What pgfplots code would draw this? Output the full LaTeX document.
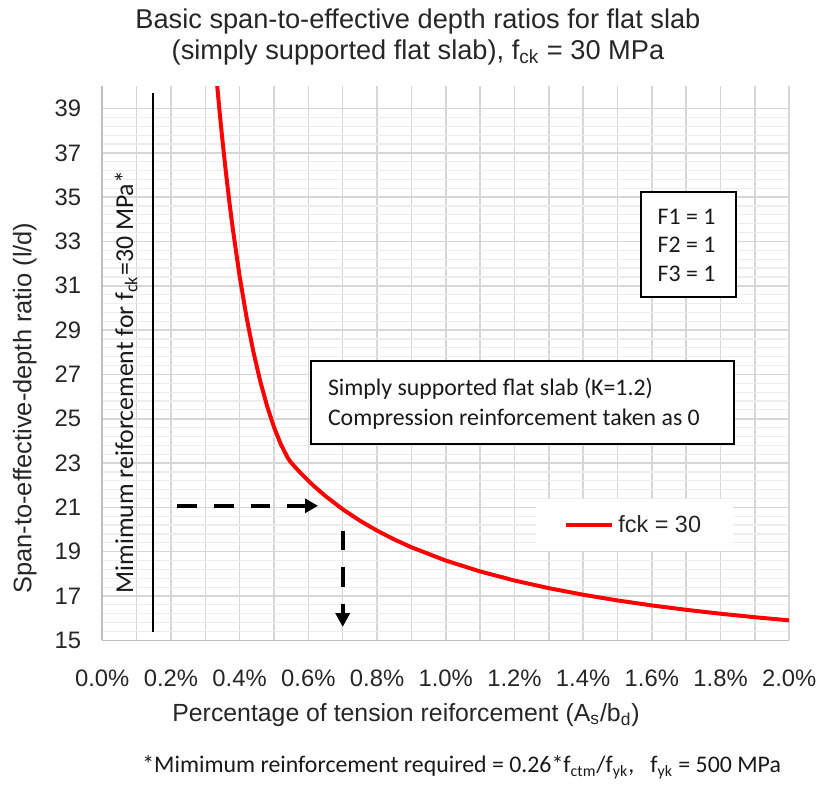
\documentclass[border=0pt]{standalone}
\usepackage{pgfplots}
\pgfplotsset{compat=1.18}
\usepackage{fontspec}
\setmainfont{Liberation Sans}
\newfontfamily\calibri{Carlito}
\usetikzlibrary{arrows.meta}

\pgfplotstableread{
x y
0.333 40.307
0.340 39.126
0.345 38.326
0.350 37.559
0.360 36.120
0.370 34.796
0.380 33.578
0.400 31.420
0.420 29.584
0.440 28.021
0.460 26.691
0.480 25.565
0.500 24.620
0.520 23.844
0.540 23.236
0.5477 23.059
0.560 22.843
0.580 22.510
0.600 22.200
0.620 21.910
0.650 21.508
0.700 20.914
0.750 20.400
0.800 19.950
0.850 19.553
0.900 19.200
1.000 18.600
1.100 18.109
1.200 17.700
1.300 17.354
1.400 17.057
1.500 16.800
1.600 16.575
1.700 16.376
1.800 16.200
1.900 16.042
2.000 15.900
}\curve

\begin{document}
\begin{tikzpicture}
\begin{scope}[x=0.5pt,y=-0.5pt]
\path[use as bounding box] (0,0) rectangle (823,790);
\end{scope}
\begin{axis}[
  at={(51.5pt,-322.5pt)}, anchor=south west,
  scale only axis, width=346pt, height=279pt,
  xmin=0, xmax=2, ymin=15, ymax=40,
  xtick={0,0.2,0.4,0.6,0.8,1.0,1.2,1.4,1.6,1.8,2.0},
  minor x tick num=1,
  ytick={15,17,...,39},
  minor y tick num=4,
  grid=both,
  major x grid style={draw=black!16, line width=0.8pt},
  minor x grid style={draw=black!16, line width=0.8pt},
  major y grid style={draw=black!16, line width=0.8pt},
  minor y grid style={draw=black!7, line width=0.6pt},
  axis x line*=bottom, axis y line*=left,
  axis line style={-, draw=black!25, line width=0.8pt},
  tick style={draw=none},
  /pgf/number format/assume math mode=true,
  xticklabel={\pgfmathprintnumber[fixed,fixed zerofill,precision=1]{\tick}\%},
  ticklabel style={font=\fontsize{12}{14}\selectfont, text=black!85},
  xticklabel style={anchor=center, yshift=-19pt},
  yticklabel style={anchor=east, inner sep=0pt, xshift=-10.5pt},
  legend style={at={(0.7746,0.2079)}, anchor=center, draw=none, fill=white,
    font=\fontsize{11.8}{13}\selectfont, text=black!85,
    inner xsep=14pt, inner ysep=6pt},
  legend image code/.code={\draw[#1] (0pt,0pt) -- (23.5pt,0pt);},
]
\addplot[red, line width=2pt] table[x=x,y=y] {\curve};
\addlegendentry{fck = 30}
\addplot[black, line width=1.3pt, forget plot] coordinates {(0.148,15.37) (0.148,39.7)};
\addplot[black, line width=2pt, dash pattern=on 10pt off 8.5pt, -{Triangle[length=6.5pt,width=7pt]}, forget plot]
  coordinates {(0.218,21.07) (0.628,21.07)};
\addplot[black, line width=2pt, dash pattern=on 10pt off 8.5pt, -{Triangle[length=7pt,width=7pt]}, forget plot]
  coordinates {(0.700,19.95) (0.700,15.6)};
\end{axis}
\begin{scope}[x=0.5pt,y=-0.5pt]
% title
\node[align=center, font=\fontsize{13.7}{15.5}\selectfont, text=black!85] at (421,37)
  {Basic span-to-effective depth ratios for flat slab\\(simply supported flat slab), f\textsubscript{ck} = 30 MPa};
% axis titles
\node[rotate=90, font=\fontsize{12.8}{15}\selectfont, text=black!85] at (25,411)
  {Span-to-effective-depth ratio (l/d)};
\node[font=\fontsize{12.5}{15}\selectfont, text=black!85] at (409,720)
  {Percentage of tension reiforcement (A\textsubscript{s}/b\textsubscript{d})};
% footnote
\node[anchor=west, inner sep=0pt, font=\calibri\fontsize{12}{14}\selectfont, text=black!90] at (143,773)
  {*Mimimum reinforcement required = 0.26*f\textsubscript{ctm}/f\textsubscript{yk},\ \ \ f\textsubscript{yk} = 500 MPa};
% rotated annotation
\node[rotate=90, font=\calibri\fontsize{13}{15}\selectfont, text=black!90] at (127,385)
  {Mimimum reiforcement for f\textsubscript{ck}=30 MPa*};
% F box
\draw[black, line width=1pt, fill=white] (646,193) rectangle (741,299);
\node[anchor=west, inner sep=0pt, font=\calibri\fontsize{12}{14}\selectfont, text=black!90] at (662,218) {F1 = 1};
\node[anchor=west, inner sep=0pt, font=\calibri\fontsize{12}{14}\selectfont, text=black!90] at (662,247) {F2 = 1};
\node[anchor=west, inner sep=0pt, font=\calibri\fontsize{12}{14}\selectfont, text=black!90] at (662,276) {F3 = 1};
% middle box
\draw[black, line width=1pt, fill=white] (313,364) rectangle (739,447);
\node[anchor=west, inner sep=0pt, font=\calibri\fontsize{12}{14}\selectfont, text=black!90] at (330,392) {Simply supported flat slab (K=1.2)};
\node[anchor=west, inner sep=0pt, font=\calibri\fontsize{12}{14}\selectfont, text=black!90] at (330,422) {Compression reinforcement taken as 0};
\end{scope}
\end{tikzpicture}
\end{document}
